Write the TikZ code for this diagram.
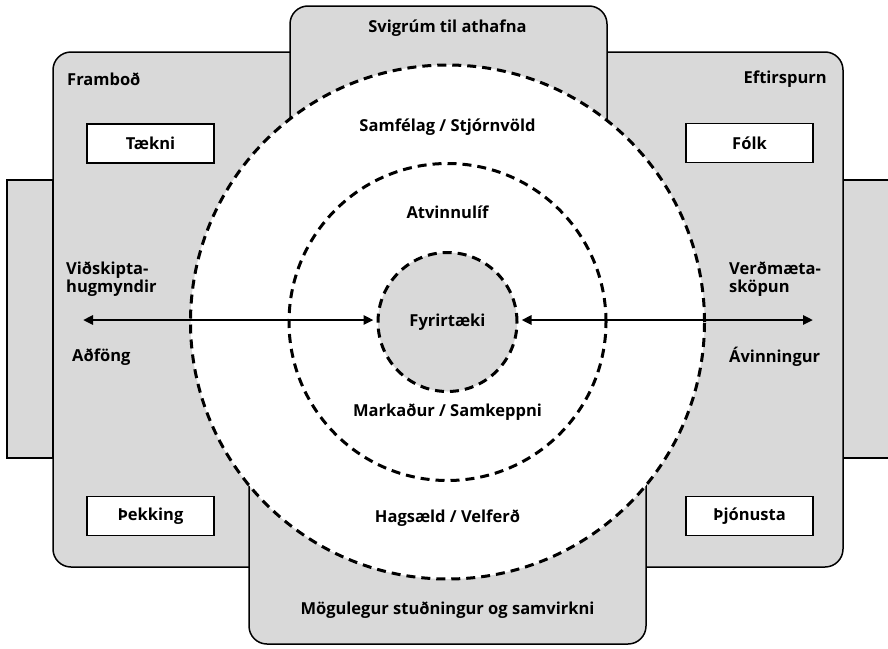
\documentclass[tikz,border=0pt]{standalone}
\usepackage{fontspec}
\setmainfont{Open Sans}
\usetikzlibrary{arrows.meta}
\definecolor{panel}{RGB}{217,217,217}
\tikzset{
  panelshape/.style={draw=black, line width=1.5pt, fill=panel},
  ring/.style={circle, draw=black, line width=3pt, dash pattern=on 9pt off 6pt, inner sep=0pt},
  txt/.style={font=\bfseries\fontsize{16.5}{18}\selectfont},
  label/.style={txt, inner sep=0pt},
  itembox/.style={txt, draw=black, line width=1.5pt, fill=white, minimum width=127pt, minimum height=39pt, inner sep=0pt},
  flow/.style={line width=2.6pt, {Triangle[length=10pt,width=9pt]}-{Triangle[length=10pt,width=9pt]}}
}
\begin{document}
\begin{tikzpicture}[x=1pt, y=-1pt]
\clip (0,0) rectangle (888,648);
\fill[white] (0,0) rectangle (888,648);

% side strips
\draw[panelshape] (7,180) rectangle (53,458);
\draw[panelshape] (843,180) rectangle (900,458);

% supply and demand panels
\draw[panelshape, rounded corners=18pt] (53,52) rectangle (447,567);
\draw[panelshape, rounded corners=18pt] (447,52) rectangle (843,567);

% top and bottom tabs
\draw[panelshape, rounded corners=18pt] (290,6) rectangle (607,320);
\draw[panelshape, rounded corners=18pt] (249,320) rectangle (646,644);

% rings
\node[ring, fill=white, minimum size=514pt] (society) at (447.5,322) {};
\node[ring, minimum size=317pt] (industry) at (447.5,322) {};
\node[ring, txt, fill=panel, minimum size=139pt] (firm) at (447.5,322) {Fyrirtæki};

% labels
\node[label] (scope) at (447.5,28) {Svigrúm til athafna};
\node[label, anchor=west] (supply) at (67,79) {Framboð};
\node[label, anchor=east] (demand) at (827,79) {Eftirspurn};
\node[label] (gov) at (447.5,127) {Samfélag / Stjórnvöld};
\node[label] (biz) at (447.5,212) {Atvinnulíf};
\node[label] (market) at (447.5,412) {Markaður / Samkeppni};
\node[label] (welfare) at (447.5,518) {Hagsæld / Velferð};
\node[label] (support) at (447.5,610) {Mögulegur stuðningur og samvirkni};
\node[label, anchor=west, align=left] (ideas) at (66,279) {Viðskipta-\\hugmyndir};
\node[label, anchor=west] (inputs) at (72,357) {Aðföng};
\node[label, anchor=west, align=left] (value) at (729,279) {Verðmæta-\\sköpun};
\node[label, anchor=west] (gain) at (729,357) {Ávinningur};

% item boxes
\node[itembox] (tech) at (150.5,143.5) {Tækni};
\node[itembox] (people) at (749.5,143) {Fólk};
\node[itembox] (know) at (150.5,516) {Þekking};
\node[itembox] (service) at (749.5,516) {Þjónusta};

% flows
\coordinate (leftend) at (83,320);
\coordinate (rightend) at (813,320);
\draw[flow, shorten >=3pt] (leftend) -- (firm.west |- leftend);
\draw[flow, shorten >=3pt] (rightend) -- (firm.east |- rightend);
\end{tikzpicture}
\end{document}
